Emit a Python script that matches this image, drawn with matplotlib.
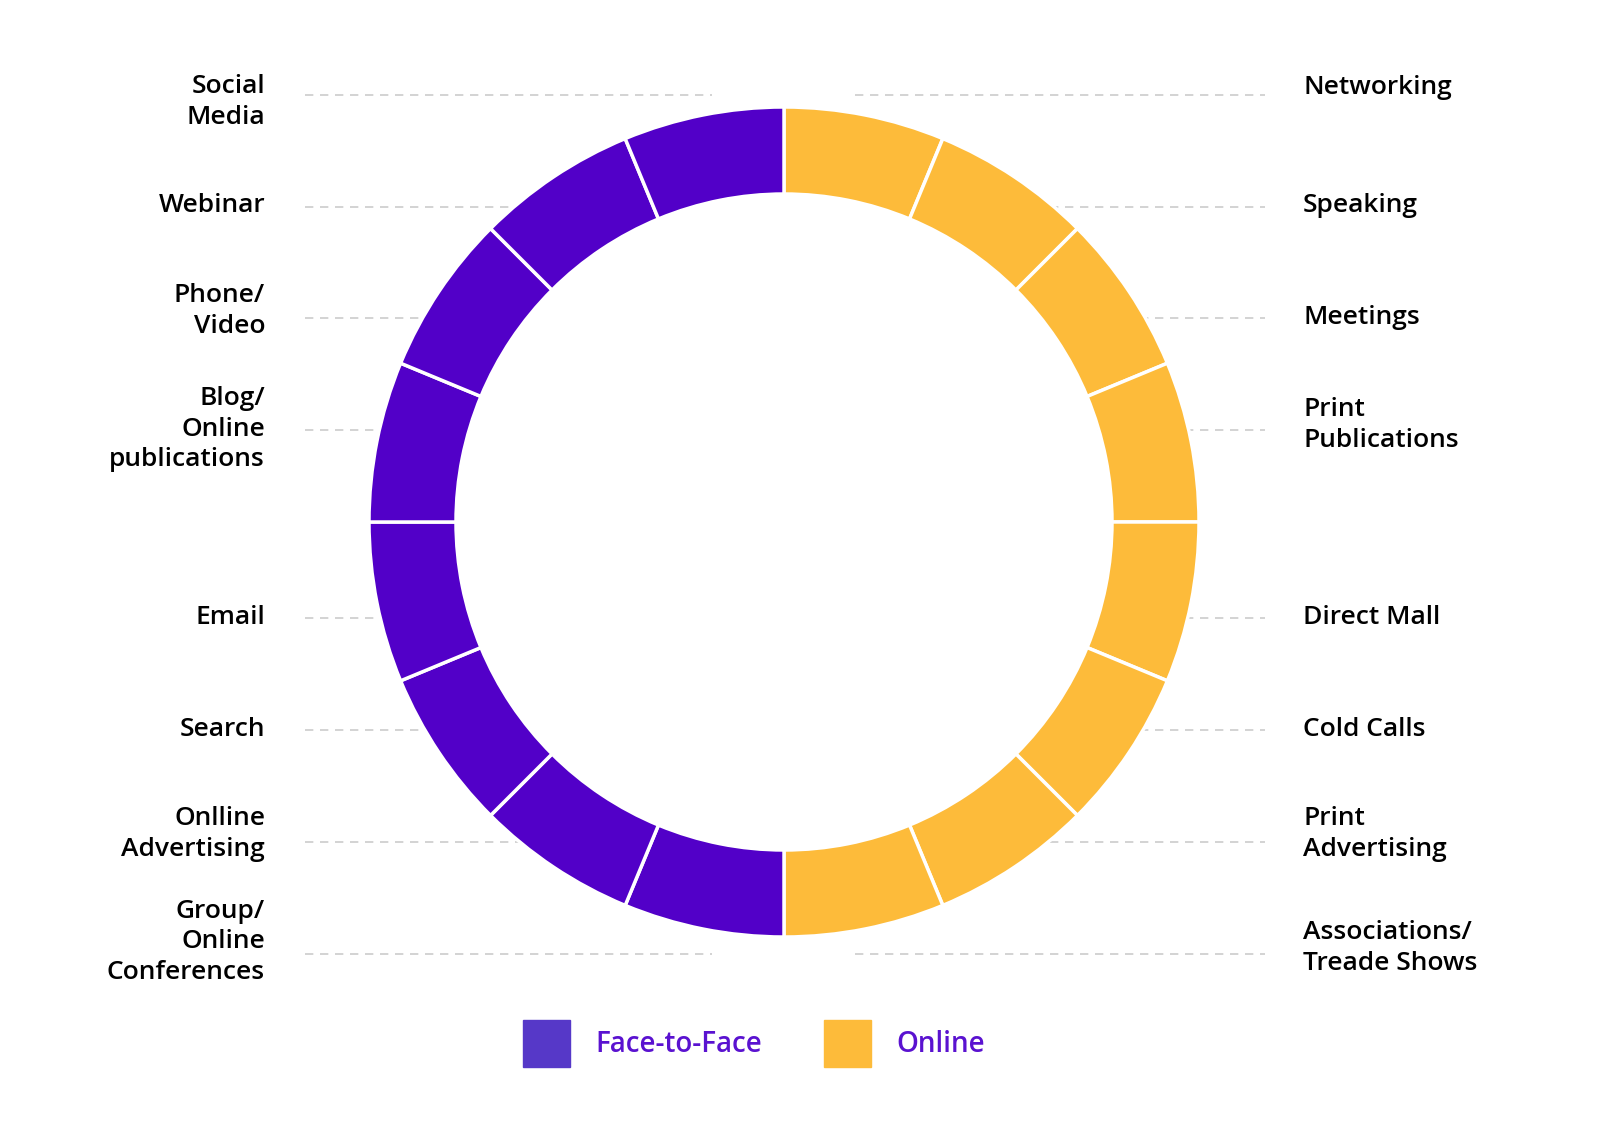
import matplotlib
matplotlib.use("Agg")
import matplotlib.pyplot as plt
from matplotlib.patches import Rectangle, Circle

left_labels = ["Social\nMedia", "Webinar", "Phone/\nVideo", "Blog/\nOnline\npublications",
               "Email", "Search", "Onlline\nAdvertising", "Group/\nOnline\nConferences"]
right_labels = ["Networking", "Speaking", "Meetings", "Print\nPublications",
                "Direct Mall", "Cold Calls", "Print\nAdvertising", "Associations/\nTreade Shows"]
line_y = [95, 207, 318, 430, 618, 730, 842, 954]
left_text_y = [102, 205, 311, 429, 617, 729, 834, 942]
right_text_y = [88, 205, 317, 425, 617, 729, 834, 948]
right_vals = [1] * 8   # Online
left_vals = [1] * 8    # Face-to-Face
PURPLE = "#5200c8"
ORANGE = "#fdbb3a"
LEG_PURPLE = "#5638c8"
TEXT_PURPLE = "#5a12d0"

W, H = 1600, 1129
fig = plt.figure(figsize=(16, 11.29), dpi=100)
ax = fig.add_axes([0, 0, 1, 1])
Y = lambda y: H - y

for i, y in enumerate(line_y):
    ax.plot([305, 712], [Y(y), Y(y)], ls=(0, (5, 4)), color="#cccccc", lw=1.2, zorder=1)
    ax.plot([855, 1265], [Y(y), Y(y)], ls=(0, (5, 4)), color="#cccccc", lw=1.2, zorder=1)
    ax.text(265, Y(left_text_y[i]), left_labels[i], ha="right", va="center",
            fontsize=19, fontfamily="Open Sans", fontweight="semibold", linespacing=1.3)
    ax.text(1303, Y(right_text_y[i]), right_labels[i], ha="left", va="center",
            fontsize=19, fontfamily="Open Sans", fontweight="semibold", linespacing=1.3)

vals = right_vals + left_vals
colors = [ORANGE] * len(right_vals) + [PURPLE] * len(left_vals)
ax.pie(vals, colors=colors, startangle=90, counterclock=False, center=(784, Y(522)),
       radius=415, wedgeprops=dict(width=87, edgecolor="white", linewidth=2.5, zorder=3), frame=True)
ax.add_patch(Circle((784, Y(522)), 327, color="white", zorder=2))
ax.set_xlim(0, W); ax.set_ylim(0, H); ax.set_aspect("equal"); ax.axis("off")

ax.add_patch(Rectangle((523, Y(1067)), 47, 47, color=LEG_PURPLE))
ax.text(595, Y(1044), "Face-to-Face", ha="left", va="center", fontsize=20,
        fontfamily="Open Sans", fontweight="semibold", color=TEXT_PURPLE)
ax.add_patch(Rectangle((824, Y(1067)), 47, 47, color=ORANGE))
ax.text(896, Y(1044), "Online", ha="left", va="center", fontsize=20,
        fontfamily="Open Sans", fontweight="semibold", color=TEXT_PURPLE)

fig.savefig("out.png", dpi=100, facecolor="white")
